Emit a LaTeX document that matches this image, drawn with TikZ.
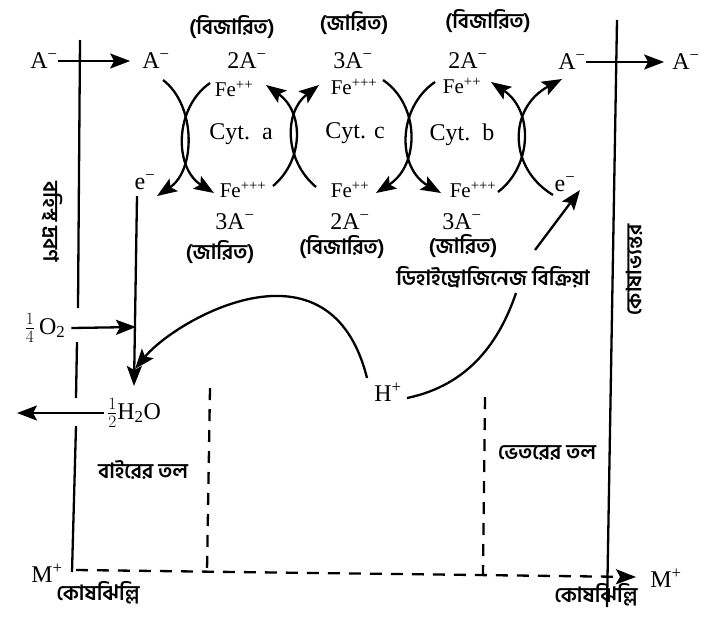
\documentclass[tikz,border=0pt]{standalone}
\usepackage{fontspec}
\setmainfont{Liberation Serif}
\newfontfamily\bn[Script=Bengali]{Hind Siliguri}
\usetikzlibrary{arrows.meta}
\begin{document}
\begin{tikzpicture}[x=1pt,y=-1pt,
  lat/.style={font=\fontsize{24}{26}\selectfont, inner sep=0pt},
  fel/.style={font=\fontsize{21}{23}\selectfont, inner sep=0pt},
  bng/.style={font=\bn\bfseries\fontsize{21}{23}\selectfont, inner sep=0pt},
  conn/.style={line width=2.3pt},
  tip/.style={-{Stealth[length=20pt,width=15pt,inset=4pt]}},
  arr/.style={conn, tip},
  memb/.style={line width=2.3pt},
  dsh/.style={line width=2.3pt, dash pattern=on 12pt off 9pt}]
\useasboundingbox (0,0) rectangle (709,638);
\fill[white] (0,0) rectangle (709,638);

% membranes
\coordinate (LmA) at (80,40);  \coordinate (LmB) at (78,308);
\coordinate (LmC) at (77,342); \coordinate (LmD) at (76,398);
\coordinate (LmE) at (76,426); \coordinate (LmF) at (72,572);
\draw[memb] (LmA) -- (LmB) (LmC) -- (LmD) (LmE) -- (LmF);
\coordinate (RmA) at (617,20); \coordinate (RmB) at (607,607);
\draw[memb] (RmA) -- (RmB);

% vertical labels
\node[bng, rotate=-90] (outsol) at (52,222) {বহিস্থ দ্রবণ};
\node[bng, rotate=90] (inside) at (634,270) {কোষাভ্যন্তর};

% top row
\node[lat] (Aout) at (44,61) {A\textsuperscript{−}};
\node[lat] (Ain) at (156,61) {A\textsuperscript{−}};
\node[lat] (A2a) at (247,61) {2A\textsuperscript{−}};
\node[lat] (A3c) at (353,61) {3A\textsuperscript{−}};
\node[lat] (A2b) at (468,61) {2A\textsuperscript{−}};
\node[lat] (Ar1) at (572,62) {A\textsuperscript{−}};
\node[lat] (Ar2) at (686,62) {A\textsuperscript{−}};
\draw[arr, shorten >=12pt] (Aout.east) -- (Ain.west);
\draw[arr, shorten >=8pt] (Ar1.east) -- (Ar2.west);

\node[bng] (tb1) at (232,27) {(বিজারিত)};
\node[bng] (tb2) at (354,23) {(জারিত)};
\node[bng] (tb3) at (488,21) {(বিজারিত)};

% cytochromes
\node[fel] (Fa1) at (234,89) {Fe\textsuperscript{++}};
\node[fel] (Fc1) at (354,87) {Fe\textsuperscript{+++}};
\node[fel] (Fb1) at (462,86) {Fe\textsuperscript{++}};
\node[lat] (cyta) at (241,134) {Cyt.\ \ a};
\node[lat] (cytc) at (355,133) {Cyt. c};
\node[lat] (cytb) at (462,135) {Cyt.\ \ b};
\node[fel] (Fa2) at (243,190) {Fe\textsuperscript{+++}};
\node[fel] (Fc2) at (350,190) {Fe\textsuperscript{++}};
\node[fel] (Fb2) at (473,190) {Fe\textsuperscript{+++}};
\node[lat] (A3a) at (235,222) {3A\textsuperscript{−}};
\node[lat] (A2c) at (350,222) {2A\textsuperscript{−}};
\node[lat] (A3b) at (462,222) {3A\textsuperscript{−}};
\node[bng] (ba1) at (220,252) {(জারিত)};
\node[bng] (ba2) at (342,247) {(বিজারিত)};
\node[bng] (ba3) at (463,246) {(জারিত)};

\node[lat] (eL) at (145,182) {e\textsuperscript{−}};
\node[lat] (eR) at (565,184) {e\textsuperscript{−}};

% arc end points
\coordinate (p1a) at (163,80);  \coordinate (p1b) at (157,196);
\coordinate (p1c) at (210,83);  \coordinate (p1d) at (214,193);
\coordinate (p2a) at (273,186); \coordinate (p2b) at (266,85);
\coordinate (p2c) at (316,187); \coordinate (p2d) at (319,85);
\coordinate (p3a) at (383,80);  \coordinate (p3b) at (376,193);
\coordinate (p3c) at (435,82);  \coordinate (p3d) at (441,193);
\coordinate (p4a) at (498,192); \coordinate (p4b) at (491,82);
\coordinate (p4c) at (553,195); \coordinate (p4d) at (562,79);

\draw[arr] (p1a) .. controls (196,105) and (196,170) .. (p1b);
\draw[arr] (p1c) .. controls (174,108) and (174,168) .. (p1d);
\draw[arr] (p2a) .. controls (304,160) and (304,112) .. (p2b);
\draw[arr] (p2c) .. controls (284,160) and (284,112) .. (p2d);
\draw[arr] (p3a) .. controls (420,105) and (420,165) .. (p3b);
\draw[arr] (p3c) .. controls (397,108) and (397,168) .. (p3d);
\draw[arr] (p4a) .. controls (533,165) and (533,110) .. (p4b);
\draw[arr] (p4c) .. controls (508,168) and (508,108) .. (p4d);

% oxygen and water
\node[lat] (o2) at (45,328) {$\frac{1}{4}$\,O\textsubscript{2}};
\node[lat] (h2o) at (134,413) {$\frac{1}{2}$H\textsubscript{2}O};
\coordinate (eDown) at (137,196);
\coordinate (wTop) at (134,386);
\coordinate (o2tip) at (136,327);
\coordinate (wOut) at (17,413);
\draw[arr] (eDown) -- (wTop);
\draw[arr] (o2.east) ++(6,0) -- (o2tip);
\draw[arr] (h2o.west) ++(-3,0) -- (wOut);

% H+ and dehydrogenase
\node[lat] (Hp) at (388,392) {H\textsuperscript{+}};
\node[bng] (dh) at (493,277) {ডিহাইড্রোজিনেজ বিক্রিয়া};
\coordinate (hA) at (367,378);
\coordinate (hTip) at (135,369);
\draw[arr] (hA) .. controls (330,230) and (175,320) .. (hTip);
\coordinate (hB) at (407,398);
\coordinate (dhB) at (516,293);
\draw[conn] (hB) .. controls (470,385) and (500,340) .. (dhB);
\coordinate (dhT) at (535,250);
\coordinate (eRtip) at (580,190);
\draw[arr] (dhT) -- (eRtip);

% surfaces
\node[lat] (Ml) at (47,573) {M\textsuperscript{+}};
\node[lat] (Mr) at (666,578) {M\textsuperscript{+}};
\coordinate (MlS) at (76,570);
\coordinate (MrT) at (636,577);
\draw[dsh, tip] (MlS) -- (MrT);
\coordinate (d1a) at (210,388); \coordinate (d1b) at (207,571);
\coordinate (d2a) at (485,397); \coordinate (d2b) at (483,575);
\draw[dsh] (d1a) -- (d1b);
\draw[dsh] (d2a) -- (d2b);
\node[bng] (outs) at (143,470) {বাইরের তল};
\node[bng] (ins) at (547,453) {ভেতরের তল};
\node[bng] (kl) at (98,593) {কোষঝিল্লি};
\node[bng] (kr) at (596,595) {কোষঝিল্লি};
\end{tikzpicture}
\end{document}
